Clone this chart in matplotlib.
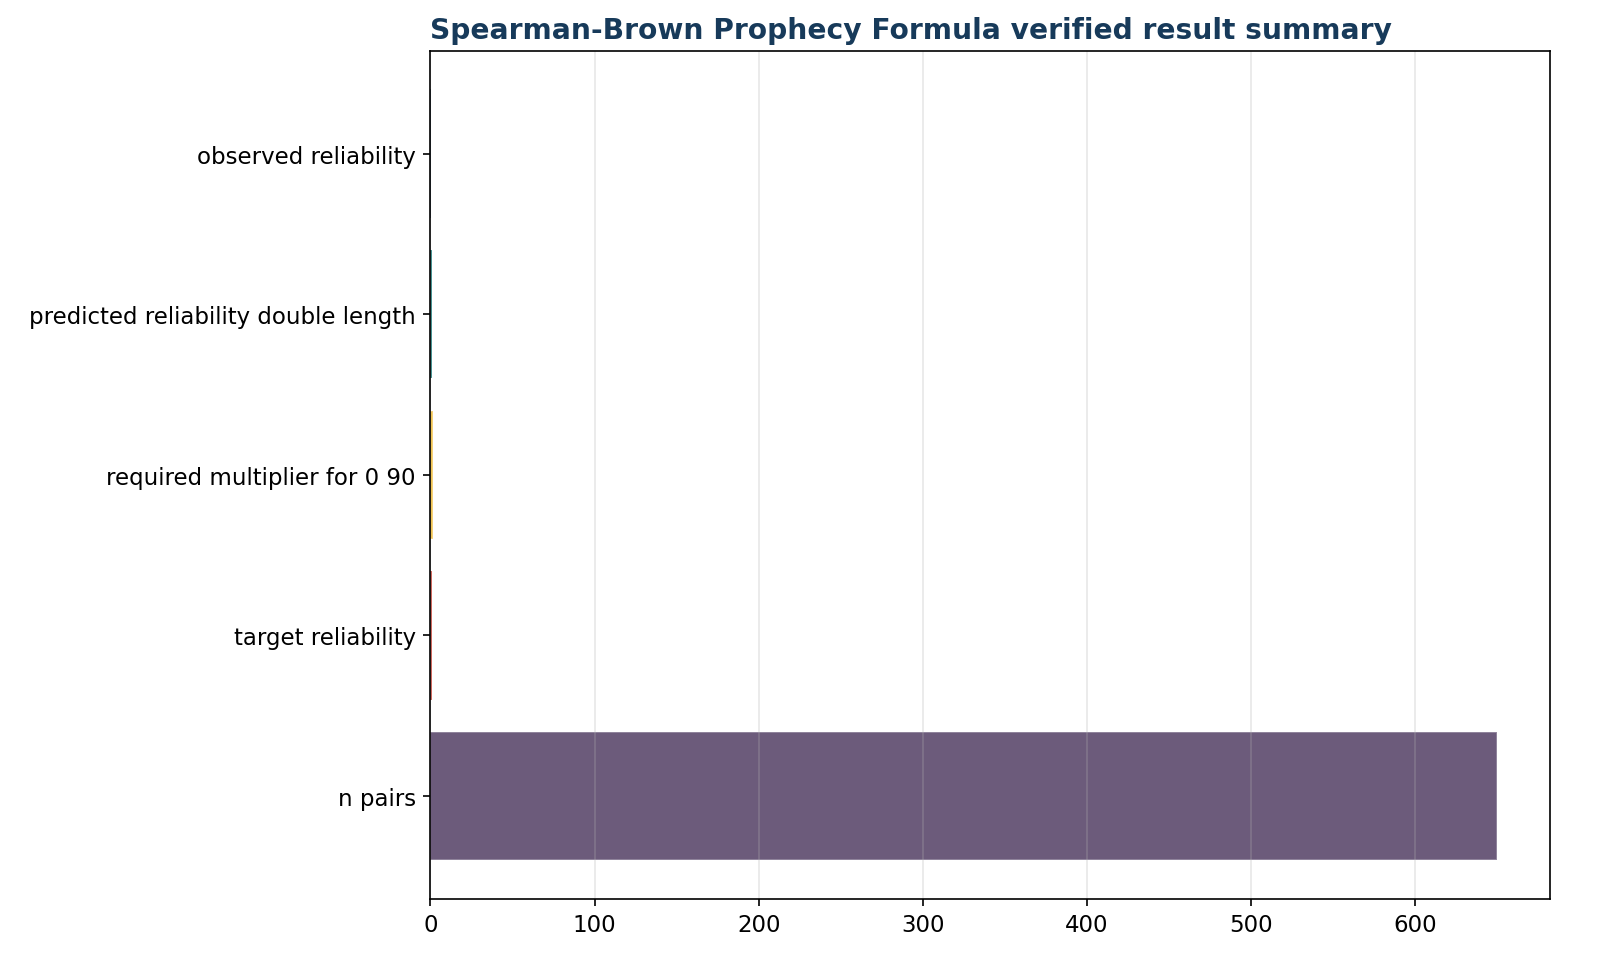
import matplotlib
matplotlib.use("Agg")
import matplotlib.pyplot as plt

# summary values, bottom to top
labels = ['n pairs', 'target reliability', 'required multiplier for 0 90',
          'predicted reliability double length', 'observed reliability']
values = [650, 0.9, 1.6, 0.92, 0.45]
colors = ['#6c5b7b', '#c0392b', '#f1c453', '#0b6e6e', '#355c7d']

fig, ax = plt.subplots(figsize=(10.667, 6.52), dpi=150)
fig.subplots_adjust(left=0.269, right=0.969, top=0.947, bottom=0.080)

ax.barh(labels, values, color=colors, edgecolor=(1, 1, 1, 0.3), linewidth=0.8)
ax.grid(True, axis='x', alpha=0.3)
ax.set_title('Spearman-Brown Prophecy Formula verified result summary',
             loc='left', fontweight='bold', color='#173a5a', fontsize=13.5)
ax.tick_params(labelsize=11)

plt.savefig('out.png')
